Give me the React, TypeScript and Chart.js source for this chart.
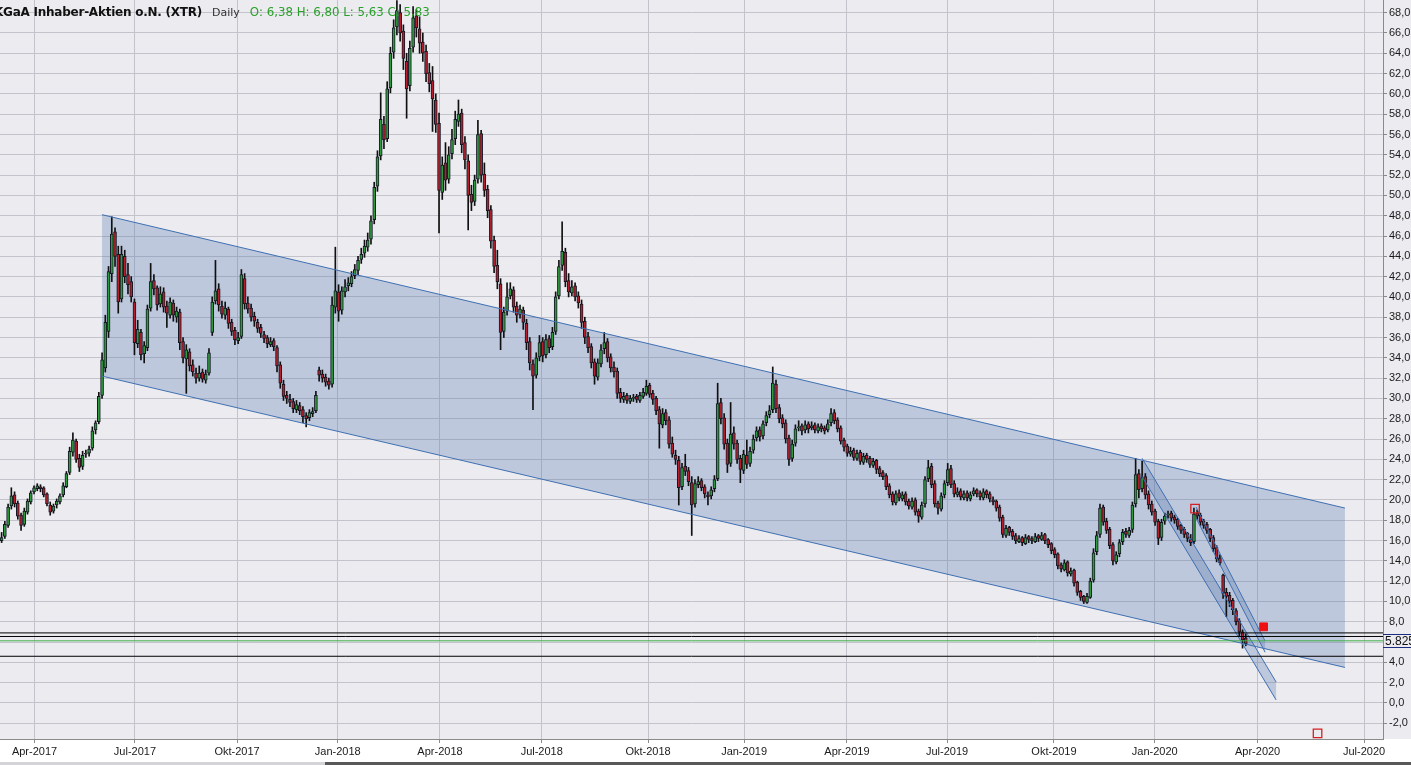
import React, { useEffect, useRef } from 'react';
import { Chart, registerables } from 'chart.js';

Chart.register(...registerables);

type Candle = [number, number, number, number]; // open, high, low, close

const candles2017: Candle[] = [
  [16.0, 16.8, 15.8, 16.3], [16.4, 17.9, 16.2, 17.6], [17.5, 19.6, 17.3, 19.3], [19.4, 21.2, 19.1, 20.4],
  [20.5, 20.8, 19.3, 19.6], [19.7, 19.9, 18.1, 18.4], [18.5, 18.7, 17.0, 17.5], [17.6, 19.2, 17.4, 18.9],
  [18.8, 20.1, 18.6, 19.9], [19.8, 20.9, 19.6, 20.7], [20.8, 21.4, 20.6, 21.2], [21.1, 21.6, 20.9, 21.4],
  [21.3, 21.5, 20.8, 21.1], [21.2, 21.3, 20.3, 20.5], [20.6, 20.7, 19.4, 19.6], [19.5, 19.8, 18.5, 18.8],
  [18.9, 19.6, 18.7, 19.4], [19.5, 20.1, 19.2, 19.9], [19.8, 20.6, 19.6, 20.4], [20.5, 21.7, 20.3, 21.4],
  [21.3, 22.8, 21.2, 22.6], [22.7, 25.2, 22.5, 24.8], [24.7, 26.6, 24.3, 25.9], [25.8, 26.0, 23.7, 24.0],
  [24.1, 24.5, 22.8, 23.2], [23.3, 24.8, 23.0, 24.4], [24.5, 24.9, 24.2, 24.6], [24.6, 25.3, 24.3, 25.0],
  [25.1, 27.2, 24.9, 26.8], [26.9, 27.8, 26.5, 27.6], [27.7, 30.6, 27.5, 30.2], [30.3, 34.5, 30.0, 33.8],
  [33.0, 38.2, 32.6, 37.5], [36.6, 43.0, 36.0, 42.5], [42.3, 47.9, 41.5, 46.2], [46.4, 46.8, 43.0, 44.0],
  [44.2, 45.0, 38.4, 39.5], [39.8, 45.0, 39.5, 44.2], [44.0, 44.6, 41.4, 42.0], [42.2, 43.3, 40.3, 41.2],
  [41.5, 42.0, 39.5, 40.0], [39.5, 39.8, 34.3, 35.5], [35.4, 37.7, 35.0, 36.8], [36.5, 36.8, 33.8, 34.3],
  [34.4, 35.6, 33.5, 35.2], [35.0, 39.2, 34.7, 38.8], [38.9, 43.3, 38.6, 41.5], [41.6, 42.2, 40.2, 40.8],
  [40.9, 41.1, 38.7, 39.2], [39.3, 41.0, 39.0, 40.3], [40.5, 40.9, 38.5, 39.0], [39.1, 39.6, 37.0, 38.4],
  [38.2, 39.9, 37.9, 39.5], [39.4, 39.7, 37.6, 38.2], [38.0, 39.0, 37.5, 38.6], [38.5, 38.8, 34.8, 35.5],
  [35.6, 36.0, 33.5, 34.0], [33.9, 35.3, 30.5, 34.8], [34.6, 34.9, 32.7, 33.2], [33.3, 33.8, 32.2, 32.6],
  [32.5, 33.0, 31.5, 32.0], [32.0, 33.2, 31.7, 32.5], [32.6, 32.9, 31.6, 31.9], [31.8, 32.8, 31.5, 32.4],
  [32.5, 34.9, 32.3, 34.5], [36.5, 40.0, 36.2, 39.5], [39.6, 43.6, 39.3, 40.6], [40.8, 41.3, 38.6, 39.2],
  [39.1, 39.6, 37.9, 38.3], [38.2, 39.5, 37.8, 38.9], [38.8, 39.0, 36.9, 37.4], [37.5, 37.8, 36.2, 36.6],
  [36.7, 37.0, 35.3, 35.8], [35.7, 36.5, 35.4, 36.0], [36.1, 42.7, 35.9, 42.2], [41.8, 42.3, 38.8, 39.3],
  [39.4, 40.0, 38.4, 38.8], [38.9, 39.3, 37.6, 38.0], [38.1, 38.5, 37.1, 37.6], [37.5, 37.8, 36.5, 36.9],
  [37.0, 37.3, 36.0, 36.4], [36.3, 36.6, 35.5, 35.9], [36.0, 36.2, 35.0, 35.4], [35.3, 36.0, 35.1, 35.6],
  [35.7, 35.9, 34.7, 35.1], [35.0, 35.2, 32.6, 33.2], [33.3, 33.6, 31.0, 31.5], [31.4, 31.8, 29.8, 30.2],
  [30.3, 30.7, 29.5, 30.0], [29.9, 30.4, 29.2, 29.6], [29.7, 30.0, 28.6, 29.0], [28.9, 29.8, 28.6, 29.4],
  [29.3, 29.6, 28.4, 28.8], [28.9, 29.2, 27.6, 28.2], [28.3, 28.6, 27.2, 28.0], [28.1, 28.9, 27.8, 28.6],
  [28.5, 29.1, 28.2, 28.7], [28.8, 30.7, 28.6, 30.3], [32.8, 33.1, 31.7, 32.3], [32.4, 32.8, 31.6, 32.0],
  [32.1, 32.4, 31.2, 31.6], [31.7, 32.0, 30.9, 31.3], [31.4, 40.0, 31.1, 39.2], [39.0, 44.9, 38.4, 40.6],
];

const candles2018: Candle[] = [
  [40.5, 41.2, 37.6, 38.6], [38.7, 41.0, 38.3, 40.6], [40.5, 41.7, 40.0, 41.0], [41.1, 41.9, 40.6, 41.4],
  [41.3, 42.5, 41.0, 42.0], [42.1, 43.2, 41.8, 42.7], [42.6, 44.0, 42.2, 43.6], [43.7, 44.8, 43.3, 44.2],
  [44.3, 45.6, 43.9, 45.0], [44.9, 46.3, 44.5, 45.6], [45.7, 48.0, 45.2, 47.5], [47.6, 51.3, 47.2, 50.8],
  [50.9, 54.4, 50.4, 53.8], [53.9, 60.1, 53.5, 57.5], [57.0, 57.8, 54.6, 55.5], [55.6, 61.2, 55.3, 60.5],
  [60.6, 64.6, 60.1, 64.0], [64.1, 67.3, 63.5, 66.5], [66.6, 69.2, 65.8, 68.2], [68.0, 68.8, 65.2, 66.0],
  [66.2, 66.8, 62.4, 63.5], [63.2, 64.0, 57.6, 60.5], [60.8, 65.2, 60.3, 64.5], [64.6, 68.6, 64.1, 67.5],
  [67.7, 68.3, 65.6, 66.5], [66.4, 67.6, 64.0, 65.0], [65.1, 66.0, 63.2, 64.0], [64.2, 64.8, 61.2, 62.0],
  [62.1, 63.0, 60.2, 61.0], [61.3, 62.7, 56.3, 59.5], [59.4, 60.0, 56.2, 57.0], [57.1, 58.1, 46.3, 50.5],
  [50.3, 53.8, 49.6, 53.0], [53.2, 55.2, 50.5, 51.5], [51.6, 54.8, 51.2, 54.0], [54.1, 56.5, 53.6, 55.5],
  [55.6, 58.3, 55.0, 57.5], [57.3, 59.4, 56.8, 58.0], [58.1, 58.5, 54.2, 55.0], [55.2, 55.8, 52.6, 53.5],
  [53.4, 54.0, 46.6, 50.0], [50.1, 51.0, 48.5, 49.3], [49.4, 52.0, 49.0, 51.5], [51.6, 57.4, 51.2, 56.0],
  [56.1, 56.4, 51.3, 52.0], [52.1, 53.2, 49.9, 50.5], [50.6, 51.0, 47.8, 48.5], [48.6, 49.0, 44.8, 45.5],
  [45.6, 46.0, 42.4, 43.0], [43.1, 44.6, 40.8, 41.5], [41.3, 41.8, 34.8, 36.5], [36.6, 39.0, 36.0, 38.5],
  [38.6, 41.4, 38.2, 40.0], [40.1, 41.4, 39.8, 40.8], [40.7, 41.0, 38.5, 39.0], [39.1, 39.5, 37.5, 38.2],
  [38.3, 39.2, 37.9, 38.8], [38.7, 39.0, 36.8, 37.5], [37.4, 37.8, 34.8, 35.5], [35.6, 36.0, 32.8, 33.5],
  [33.4, 33.8, 28.9, 32.2], [32.3, 34.5, 32.0, 34.0], [34.1, 36.2, 33.7, 35.5], [35.6, 36.0, 33.6, 34.2],
  [34.3, 36.3, 34.0, 35.8], [35.9, 36.2, 34.5, 35.0], [35.1, 37.0, 34.8, 36.5], [36.6, 40.5, 36.3, 40.0],
  [40.1, 43.6, 39.8, 43.0], [43.1, 47.4, 42.6, 44.5], [44.4, 44.8, 41.0, 41.5], [41.6, 42.3, 40.0, 40.5],
  [40.4, 41.6, 40.1, 41.0], [41.1, 41.4, 39.6, 40.0], [40.1, 40.5, 38.9, 39.4], [39.3, 39.7, 36.9, 37.5],
  [37.6, 38.0, 35.4, 36.0], [36.1, 36.5, 34.5, 35.0], [35.1, 35.4, 33.0, 33.5], [33.6, 33.9, 31.4, 32.2],
  [32.1, 33.9, 31.8, 33.5], [33.4, 35.3, 33.1, 34.8], [34.9, 36.5, 34.4, 35.5], [35.6, 35.9, 33.6, 34.0],
  [34.1, 34.4, 32.6, 33.0], [33.1, 33.6, 32.1, 32.6], [32.7, 33.0, 30.0, 30.5], [30.6, 31.0, 29.6, 30.0],
  [29.9, 30.6, 29.6, 30.2], [30.3, 30.5, 29.5, 29.8], [29.7, 30.3, 29.5, 30.0], [30.1, 30.4, 29.7, 30.1],
  [30.2, 30.4, 29.6, 29.9], [29.8, 30.6, 29.6, 30.3], [30.2, 31.0, 30.0, 30.6], [30.5, 31.8, 30.3, 31.2],
  [31.3, 31.5, 30.1, 30.4], [30.5, 30.8, 29.4, 29.9], [30.0, 30.2, 28.4, 28.8], [28.9, 29.2, 25.1, 27.5],
  [27.4, 29.0, 27.1, 28.5], [28.6, 28.9, 27.4, 27.8], [27.9, 28.2, 25.1, 25.5], [25.6, 26.2, 24.2, 24.5],
  [24.4, 24.9, 23.5, 24.0], [23.9, 24.3, 19.5, 21.2], [21.3, 23.6, 21.0, 23.2], [23.3, 24.5, 22.4, 22.8],
  [22.9, 23.2, 21.4, 21.8], [21.7, 22.3, 16.5, 19.5], [19.6, 22.0, 19.3, 21.6], [21.5, 22.3, 21.2, 21.8],
  [21.9, 22.1, 20.9, 21.2], [21.3, 21.5, 20.2, 20.6], [20.5, 20.8, 19.5, 20.3], [20.4, 21.3, 20.1, 21.0],
  [21.1, 22.4, 20.8, 22.0], [22.1, 31.5, 21.9, 29.5], [29.6, 30.0, 27.5, 28.0], [28.1, 28.5, 25.0, 25.5],
  [25.6, 26.0, 22.7, 23.5], [23.6, 29.6, 23.3, 26.5], [26.6, 27.2, 25.0, 25.5], [25.6, 25.9, 23.6, 24.0],
  [24.1, 24.4, 21.7, 23.0], [22.9, 24.9, 22.6, 24.5],
];

const candles2019: Candle[] = [
  [24.4, 25.9, 23.1, 23.5], [23.6, 25.2, 23.3, 24.8], [24.9, 26.4, 24.6, 26.0], [26.1, 27.2, 25.8, 26.8],
  [26.9, 27.2, 25.8, 26.2], [26.3, 27.8, 26.0, 27.5], [27.6, 28.7, 27.3, 28.3], [28.4, 29.3, 28.1, 28.8],
  [28.9, 33.1, 28.6, 31.5], [31.4, 31.8, 28.6, 29.0], [29.1, 29.4, 27.6, 28.0], [28.1, 28.4, 27.1, 27.5],
  [27.6, 27.9, 25.6, 26.0], [26.1, 26.4, 23.4, 24.0], [24.1, 25.9, 23.8, 25.5], [25.6, 27.4, 25.3, 27.0],
  [27.1, 27.8, 26.8, 27.2], [27.3, 27.5, 26.4, 26.8], [26.9, 27.8, 26.6, 27.4], [27.5, 27.7, 26.6, 27.0],
  [27.1, 27.7, 26.9, 27.3], [27.4, 27.6, 26.6, 26.9], [26.8, 27.5, 26.6, 27.2], [27.3, 27.5, 26.7, 27.0],
  [27.1, 27.3, 26.5, 26.8], [26.9, 27.9, 26.7, 27.5], [27.6, 29.0, 27.3, 28.5], [28.6, 28.9, 27.5, 27.8],
  [27.9, 28.1, 26.7, 27.0], [27.1, 27.3, 25.5, 25.8], [25.9, 26.1, 24.8, 25.2], [25.3, 25.5, 24.3, 24.6],
  [24.5, 25.2, 24.3, 24.8], [24.9, 25.1, 23.9, 24.2], [24.1, 24.9, 23.9, 24.6], [24.7, 24.9, 23.5, 23.8],
  [23.7, 24.6, 23.5, 24.3], [24.4, 24.6, 23.7, 24.0], [24.1, 24.3, 23.2, 23.5], [23.4, 24.1, 23.2, 23.8],
  [23.9, 24.0, 22.6, 23.0], [23.1, 23.3, 22.3, 22.6], [22.7, 22.9, 22.0, 22.3], [22.4, 22.6, 21.0, 21.3],
  [21.4, 21.6, 20.2, 20.5], [20.6, 20.8, 19.5, 19.8], [19.7, 20.9, 19.5, 20.6], [20.7, 21.0, 19.9, 20.2],
  [20.1, 20.8, 19.9, 20.5], [20.6, 20.8, 19.5, 19.8], [19.9, 20.1, 19.1, 19.4], [19.3, 20.2, 19.1, 19.9],
  [20.0, 20.2, 18.5, 18.8], [18.9, 19.1, 17.8, 18.4], [18.3, 19.8, 18.1, 19.5], [19.6, 22.3, 19.3, 22.0],
  [22.1, 23.9, 21.8, 23.2], [23.3, 23.6, 21.2, 21.5], [21.6, 21.9, 19.3, 19.6], [19.7, 19.9, 18.6, 19.2],
  [19.1, 20.7, 18.9, 20.4], [20.5, 21.9, 20.2, 21.6], [21.7, 23.6, 21.4, 23.0], [23.1, 23.4, 21.2, 21.5],
  [21.6, 21.9, 20.3, 20.6], [20.5, 21.2, 20.3, 20.8], [20.9, 21.1, 20.0, 20.3], [20.2, 20.9, 20.0, 20.6],
  [20.7, 20.9, 19.9, 20.2], [20.1, 20.8, 19.9, 20.5], [20.6, 21.2, 20.4, 20.9], [21.0, 21.1, 20.3, 20.6],
  [20.7, 20.9, 20.0, 20.3], [20.2, 21.1, 20.0, 20.8], [20.9, 21.0, 20.2, 20.5], [20.6, 20.8, 19.8, 20.1],
  [20.0, 20.3, 19.5, 19.8], [19.9, 20.0, 18.9, 19.2], [19.3, 19.5, 17.9, 18.2], [18.3, 18.5, 16.3, 16.6],
  [16.5, 17.5, 16.3, 17.2], [17.3, 17.4, 16.5, 16.8], [16.9, 17.1, 16.1, 16.4], [16.5, 16.7, 15.7, 16.0],
  [15.9, 16.5, 15.8, 16.2], [16.3, 16.4, 15.5, 15.8], [15.7, 16.6, 15.6, 16.3], [16.4, 16.5, 15.8, 16.1],
  [16.2, 16.4, 15.7, 16.0], [15.9, 16.7, 15.8, 16.4], [16.5, 16.6, 15.9, 16.2], [16.1, 16.8, 16.0, 16.5],
  [16.6, 16.7, 15.7, 16.0], [16.1, 16.2, 15.3, 15.6], [15.7, 15.8, 14.7, 15.0], [15.1, 15.3, 14.3, 14.6],
  [14.7, 14.8, 13.2, 13.5], [13.6, 13.8, 12.9, 13.2], [13.1, 14.1, 13.0, 13.8], [13.9, 14.0, 12.5, 12.8],
  [12.7, 13.3, 12.5, 13.0], [13.1, 13.2, 11.5, 11.8], [11.9, 12.0, 10.6, 10.9], [11.0, 11.1, 10.1, 10.4],
  [10.5, 10.6, 9.8, 10.0], [9.9, 10.8, 9.8, 10.5], [10.4, 12.3, 10.3, 12.0], [12.1, 15.2, 11.9, 14.8],
  [14.9, 16.9, 14.6, 16.5], [16.6, 19.6, 16.3, 19.2], [19.3, 19.5, 17.5, 17.8], [17.9, 18.2, 16.7, 17.0],
  [17.1, 17.3, 15.2, 15.5], [15.6, 15.8, 13.6, 14.0], [13.9, 14.9, 13.7, 14.6], [14.7, 16.1, 14.4, 15.8],
  [15.9, 17.1, 15.6, 16.8], [16.9, 17.2, 16.3, 16.6], [16.5, 17.3, 16.3, 17.0], [17.1, 19.8, 16.8, 19.5],
  [19.6, 24.1, 19.3, 22.5], [22.6, 23.0, 20.2, 21.0], [21.1, 23.8, 20.8, 22.2], [22.3, 22.6, 20.1, 20.5],
  [20.6, 20.9, 19.1, 19.5], [19.6, 19.9, 18.5, 18.8],
];

const candles2020: Candle[] = [
  [18.9, 19.1, 17.5, 17.8], [17.9, 18.1, 15.6, 16.2], [16.3, 18.1, 16.0, 17.8], [17.9, 18.7, 17.6, 18.4],
  [18.5, 18.9, 18.2, 18.6], [18.7, 18.9, 17.9, 18.2], [18.3, 18.5, 17.7, 18.0], [18.1, 18.2, 17.1, 17.4],
  [17.5, 17.6, 16.7, 17.0], [17.1, 17.3, 16.3, 16.6], [16.7, 16.8, 15.9, 16.2], [16.1, 16.6, 15.5, 15.8],
  [15.9, 19.2, 15.7, 18.6], [18.7, 19.0, 18.1, 18.4], [18.5, 18.7, 17.5, 17.8], [17.9, 18.1, 17.2, 17.5],
  [17.6, 17.8, 16.7, 17.0], [17.1, 17.2, 15.9, 16.2], [16.3, 16.5, 14.9, 15.2], [15.3, 15.5, 13.9, 14.2],
  [14.3, 14.6, 13.6, 13.8], [12.6, 12.7, 10.3, 10.8], [10.9, 11.3, 8.5, 10.5], [10.6, 10.9, 9.5, 10.0],
  [10.1, 10.3, 8.7, 9.2], [9.1, 9.3, 7.7, 8.0], [8.1, 8.3, 6.6, 7.0], [7.0, 7.2, 5.4, 6.2],
  [6.38, 6.80, 5.63, 5.83],
];

// x axis: trading-day index; candles every second trading day
const FIRST_DAY = 1;
const DAY_STEP = 2;
const X_MAX = 853.7;

const quarterLabels = ['Apr-2017', 'Jul-2017', 'Okt-2017', 'Jan-2018', 'Apr-2018', 'Jul-2018', 'Okt-2018',
  'Jan-2019', 'Apr-2019', 'Jul-2019', 'Okt-2019', 'Jan-2020', 'Apr-2020', 'Jul-2020'];
const quarterDays = [21.3, 83.3, 146.3, 208.5, 271.6, 334.4, 400, 459.3, 522.8, 584.6, 650.6, 712.8, 776.3, 842];

const Y_MIN = -3.55;
const Y_MAX = 69.25;
const yTickValues = [-2, 0, 2, 4, 6, 8, 10, 12, 14, 16, 18, 20, 22, 24, 26, 28, 30, 32, 34, 36, 38, 40,
  42, 44, 46, 48, 50, 52, 54, 56, 58, 60, 62, 64, 66, 68];

// Drawn trend channels: day and price at left and right ends
const bigChannelDays = [63, 830.2];
const bigChannelTop = [48.1, 19.2];
const bigChannelBottom = [32.2, 3.5];
const decChannelDays = [705, 787.7];
const decChannelTop = [24.1, 2.07];
const decChannelBottom = [22.3, 0.3];
const febChannelDays = [738.3, 780.9];
const febChannelTop = [19.3, 6.1];
const febChannelBottom = [18.2, 5.0];

// Horizontal lines
const blackLevels = [6.9, 6.55, 4.6];
const greenLevels = [6.12];

// Markers
const hollowMarkers = [{ x: 737.7, y: 19.15 }, { x: 813.3, y: -3.0 }];
const filledMarkers = [{ x: 780, y: 7.5 }];

const LAST_PRICE_LABEL = '5.825';
const TITLE = 'KGaA Inhaber-Aktien o.N. (XTR)';
const PERIOD = 'Daily';

const PLOT_BG = '#ebebf0';
const GRID = '#c3c3cb';
const GREEN = '#2f9a3c';
const RED = '#b41f2b';
const OUTLINE = '#141824';
const CH_FILL = 'rgba(70,108,168,0.27)';
const CH_LINE = '#3f70b2';

const allCandles: Candle[] = [...candles2017, ...candles2018, ...candles2019, ...candles2020];

function fmt(v: number) {
  return v.toFixed(2).replace('.', ',');
}

function channel(days: number[], top: number[], bottom: number[]) {
  return {
    poly: [
      { x: days[0], y: top[0] }, { x: days[1], y: top[1] },
      { x: days[1], y: bottom[1] }, { x: days[0], y: bottom[0] },
    ],
    top: [{ x: days[0], y: top[0] }, { x: days[1], y: top[1] }],
    bottom: [{ x: days[0], y: bottom[0] }, { x: days[1], y: bottom[1] }],
  };
}

function noPadding(scale: any) {
  scale.paddingTop = 0;
  scale.paddingBottom = 0;
  scale.paddingLeft = 0;
  scale.paddingRight = 0;
}

export default function App() {
  const ref = useRef<HTMLCanvasElement | null>(null);

  useEffect(() => {
    document.body.style.margin = '0';
    document.body.style.overflow = 'hidden';
    const canvas = ref.current;
    if (!canvas) return;

    const wicks = allCandles.map((c, i) => ({ x: FIRST_DAY + i * DAY_STEP, y: [c[2], c[1]] }));
    const bodies = allCandles.map((c, i) => ({ x: FIRST_DAY + i * DAY_STEP, y: [c[0], c[3]] }));
    const bodyColors = allCandles.map((c) => (c[3] >= c[0] ? GREEN : RED));

    const big = channel(bigChannelDays, bigChannelTop, bigChannelBottom);
    const dec = channel(decChannelDays, decChannelTop, decChannelBottom);
    const feb = channel(febChannelDays, febChannelTop, febChannelBottom);

    const polyDs = (data: any[]) => ({
      type: 'line', data, fill: 'shape', backgroundColor: CH_FILL, borderWidth: 0,
      borderColor: 'transparent', pointRadius: 0, tension: 0, order: 20,
    });
    const edgeDs = (data: any[]) => ({
      type: 'line', data, fill: false, borderColor: CH_LINE, borderWidth: 1,
      pointRadius: 0, tension: 0, order: 3,
    });
    const levelDs = (v: number, color: string) => ({
      type: 'line', data: [{ x: 0, y: v }, { x: X_MAX, y: v }], fill: false, borderColor: color,
      borderWidth: 1, pointRadius: 0, order: 2,
    });

    const bgPlugin = {
      id: 'bgPlugin',
      beforeDraw(chart: any) {
        const { ctx, chartArea, width, height } = chart;
        ctx.save();
        ctx.fillStyle = '#ffffff';
        ctx.fillRect(0, 0, width, height);
        ctx.fillStyle = PLOT_BG;
        ctx.fillRect(0, 0, width, chartArea.bottom);
        ctx.restore();
      },
      afterDraw(chart: any) {
        const { ctx, chartArea, width, height } = chart;
        const last = allCandles[allCandles.length - 1];
        const py = chart.scales.y.getPixelForValue(last[3]);
        ctx.save();
        ctx.fillStyle = PLOT_BG;
        ctx.fillRect(chartArea.right + 1, py - 9, width - chartArea.right, 12);
        ctx.strokeStyle = '#1c2a80';
        ctx.lineWidth = 1;
        ctx.beginPath();
        ctx.moveTo(chartArea.right, Math.round(py - 9.5) + 0.5);
        ctx.lineTo(width, Math.round(py - 9.5) + 0.5);
        ctx.moveTo(chartArea.right, Math.round(py + 3.5) + 0.5);
        ctx.lineTo(width, Math.round(py + 3.5) + 0.5);
        ctx.stroke();
        ctx.fillStyle = '#111';
        ctx.font = '12px "Liberation Sans", Arial, sans-serif';
        ctx.textBaseline = 'middle';
        ctx.fillText(LAST_PRICE_LABEL, chartArea.right + 2, py - 2.5);
        // scrollbar strip at the bottom
        ctx.fillStyle = '#d4d4d8';
        ctx.fillRect(0, height - 3, 325, 3);
        ctx.fillStyle = '#585858';
        ctx.fillRect(325, height - 3, width - 325, 3);
        ctx.restore();
      },
    };

    const chart = new Chart(canvas, {
      type: 'bar',
      data: {
        datasets: [
          polyDs(big.poly), polyDs(dec.poly), polyDs(feb.poly),
          {
            type: 'bar', data: wicks, backgroundColor: '#101010', borderWidth: 0,
            barThickness: 1, grouped: false, order: 6,
          },
          {
            type: 'bar', data: bodies, backgroundColor: bodyColors, borderColor: OUTLINE,
            borderWidth: 1, borderSkipped: false, barThickness: 3, minBarLength: 1,
            grouped: false, order: 5,
          },
          edgeDs(big.top), edgeDs(big.bottom), edgeDs(dec.top), edgeDs(dec.bottom),
          edgeDs(feb.top), edgeDs(feb.bottom),
          ...blackLevels.map((v) => levelDs(v, '#000000')),
          ...greenLevels.map((v) => levelDs(v, '#3cae46')),
          {
            type: 'line', data: hollowMarkers, showLine: false, pointStyle: 'rect', pointRadius: 6,
            pointBackgroundColor: 'rgba(0,0,0,0)', pointBorderColor: '#d42020', pointBorderWidth: 1.3, order: 1,
          },
          {
            type: 'line', data: filledMarkers, showLine: false, pointStyle: 'rect', pointRadius: 5.5,
            pointBackgroundColor: '#ee1111', pointBorderColor: '#ee1111', pointBorderWidth: 1, order: 1,
          },
        ] as any,
      },
      options: {
        animation: false,
        responsive: false,
        devicePixelRatio: 1,
        layout: { padding: 0, autoPadding: false },
        plugins: { legend: { display: false }, tooltip: { enabled: false }, title: { display: false } },
        scales: {
          x: {
            type: 'linear', min: 0, max: X_MAX, offset: false,
            grid: { color: GRID, offset: false, drawTicks: true, tickLength: 4, tickColor: '#8a8a8a' },
            border: { display: true, color: '#8a8a8a' },
            afterBuildTicks: (scale: any) => { scale.ticks = quarterDays.map((v) => ({ value: v })); },
            afterFit: (scale: any) => { scale.height = 26; noPadding(scale); },
            ticks: {
              autoSkip: false, maxRotation: 0, minRotation: 0, padding: 2, color: '#1a1a1a',
              font: { family: '"Liberation Sans", Arial, sans-serif', size: 11 },
              callback: (_v: any, i: number) => quarterLabels[i],
            },
          },
          y: {
            type: 'linear', position: 'right', min: Y_MIN, max: Y_MAX,
            grid: { color: GRID, drawTicks: true, tickLength: 4, tickColor: '#8a8a8a' },
            border: { display: true, color: '#8a8a8a' },
            afterBuildTicks: (scale: any) => { scale.ticks = yTickValues.map((v) => ({ value: v })); },
            afterFit: (scale: any) => { scale.width = 28; noPadding(scale); },
            ticks: {
              padding: 2, color: '#1a1a1a',
              font: { family: '"Liberation Sans", Arial, sans-serif', size: 11 },
              callback: (v: any) => Number(v).toFixed(1).replace('.', ','),
            },
          },
        },
      } as any,
      plugins: [bgPlugin],
    });
    return () => chart.destroy();
  }, []);

  const last = allCandles[allCandles.length - 1];
  return (
    <div style={{ position: 'absolute', left: 0, top: 0, width: 1411, height: 765, overflow: 'hidden', background: '#fff' }}>
      <canvas ref={ref} width={1411} height={765} style={{ display: 'block', width: 1411, height: 765 }} />
      <div style={{
        position: 'absolute', top: 4, left: -6, whiteSpace: 'nowrap', lineHeight: '16px',
        fontFamily: '"DejaVu Sans", Verdana, sans-serif', fontSize: 12, pointerEvents: 'none',
      }}>
        <span style={{ fontWeight: 'bold', color: '#111', letterSpacing: '-0.24px' }}>{TITLE}</span>
        <span style={{ marginLeft: 10, color: '#333', fontSize: 11 }}>{PERIOD}</span>
        <span style={{ marginLeft: 10, color: '#2aa02a', fontSize: 11.8 }}>
          {`O: ${fmt(last[0])} H: ${fmt(last[1])} L: ${fmt(last[2])} C: ${fmt(last[3])}`}
        </span>
      </div>
    </div>
  );
}
